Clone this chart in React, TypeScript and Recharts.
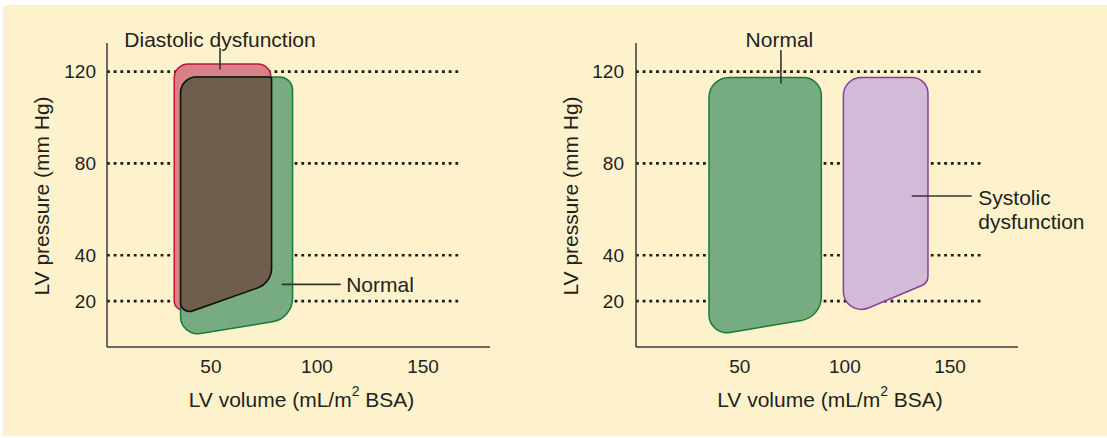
import React from 'react';
import { LineChart, Line, XAxis, YAxis, ReferenceLine } from 'recharts';

// axis ticks
const pressureTicks = [20, 40, 80, 120];
const volumeTicks = [50, 100, 150];
const gridLevels = [20, 40, 80, 120];

// pressure-volume loops (corner vertices)
const diastolicLoop = [
  { volume: 32.7, pressure: 123.4 },
  { volume: 78.3, pressure: 123.4 },
  { volume: 78.3, pressure: 29.4 },
  { volume: 32.7, pressure: 14.5 },
];
const normalLoopLeft = [
  { volume: 35.7, pressure: 117.7 },
  { volume: 88.5, pressure: 117.7 },
  { volume: 88.5, pressure: 12.4 },
  { volume: 35.7, pressure: 4.5 },
];
const overlapLoop = [
  { volume: 35.7, pressure: 117.7 },
  { volume: 78.6, pressure: 117.7 },
  { volume: 78.6, pressure: 27.9 },
  { volume: 35.7, pressure: 13.9 },
];
const normalLoopRight = [
  { volume: 35.4, pressure: 117.5 },
  { volume: 88.8, pressure: 117.5 },
  { volume: 88.8, pressure: 13.0 },
  { volume: 35.4, pressure: 4.8 },
];
const systolicLoop = [
  { volume: 99.3, pressure: 117.5 },
  { volume: 139.5, pressure: 117.5 },
  { volume: 139.5, pressure: 27.9 },
  { volume: 99.3, pressure: 12.4 },
];

// callout leaders
const diastolicLeader = [{ volume: 54.3, pressure: 130.3 }, { volume: 54.3, pressure: 121.0 }];
const normalLeaderLeft = [{ volume: 83.4, pressure: 27.3 }, { volume: 111.2, pressure: 27.3 }];
const normalLeaderRight = [{ volume: 69.6, pressure: 129.4 }, { volume: 69.6, pressure: 114.9 }];
const systolicLeader = [{ volume: 131.8, pressure: 65.8 }, { volume: 160.3, pressure: 65.8 }];

const leftVolumeDomain = [1, 181.6];
const rightVolumeDomain = [0.7, 182.3];
const pressureDomain = [0, 132.5];
const leftGridEnd = 167.5;
const rightGridEnd = 165.5;

const FONT = '"Liberation Sans", Arial, Helvetica, sans-serif';
const INK = '#231f20';
const AXIS = '#3a3a3a';

// closed polygon with rounded corners, drawn in pixel space
type Pt = [number, number];
const roundedLoop = (radii: number[]) => (context: any) => {
  let pts: Pt[] = [];
  return {
    areaStart() {},
    areaEnd() {},
    lineStart() {
      pts = [];
    },
    point(x: number, y: number) {
      pts.push([+x, +y]);
    },
    lineEnd() {
      const n = pts.length;
      if (n < 3) return;
      const a0 = pts[n - 1];
      const b0 = pts[0];
      context.moveTo((a0[0] + b0[0]) / 2, (a0[1] + b0[1]) / 2);
      for (let i = 0; i < n; i++) {
        const p = pts[i];
        const prev = pts[(i - 1 + n) % n];
        const next = pts[(i + 1) % n];
        const ax = prev[0] - p[0];
        const ay = prev[1] - p[1];
        const bx = next[0] - p[0];
        const by = next[1] - p[1];
        const la = Math.hypot(ax, ay);
        const lb = Math.hypot(bx, by);
        const cos = (ax * bx + ay * by) / (la * lb);
        const theta = Math.acos(Math.max(-1, Math.min(1, cos)));
        const maxR = (Math.min(la, lb) / 2) * Math.tan(theta / 2);
        const r = Math.max(0, Math.min(radii[i] ?? 0, maxR));
        context.arcTo(p[0], p[1], next[0], next[1], r);
      }
      context.closePath();
    },
  };
};

const loopCss = `
.loop-diastolic .recharts-line-curve { fill: #d98088; }
.loop-normal .recharts-line-curve { fill: #77ab81; }
.loop-overlap .recharts-line-curve { fill: #6f5e4b; }
.loop-systolic .recharts-line-curve { fill: #d1bbd8; }
`;

const note =
  (lines: string[], side: 'top' | 'right', dx: number, dy: number) =>
  (props: any) => {
    const vb = props.viewBox || {};
    const x = side === 'top' ? vb.x + dx : vb.x + (vb.width || 0) + dx;
    const y = vb.y + dy;
    return (
      <text
        x={x}
        y={y}
        textAnchor={side === 'top' ? 'middle' : 'start'}
        fontSize={21}
        fontFamily={FONT}
        fill={INK}
      >
        {lines.map((t, i) => (
          <tspan key={i} x={x} dy={i === 0 ? 0 : 23.5}>
            {t}
          </tspan>
        ))}
      </text>
    );
  };

const xTitle = (props: any) => {
  const { x, y, width } = props.viewBox;
  return (
    <text x={x + width / 2 + 3} y={y + 60.3} textAnchor="middle" fontSize={21} fontFamily={FONT} fill={INK}>
      LV volume (mL/m
      <tspan fontSize={14} dy={-11}>
        2
      </tspan>
      <tspan dy={11}> BSA)</tspan>
    </text>
  );
};

const yTitle = (shift: number) => (props: any) => {
  const { x, y, width, height } = props.viewBox;
  const cx = x + width / 2 + shift;
  const cy = y + height / 2 + 1;
  return (
    <text
      x={cx}
      y={cy}
      transform={`rotate(-90 ${cx} ${cy})`}
      textAnchor="middle"
      dominantBaseline="central"
      fontSize={21}
      fontFamily={FONT}
      fill={INK}
    >
      LV pressure (mm Hg)
    </text>
  );
};

type LoopSpec = { data: { volume: number; pressure: number }[]; cls: string; stroke: string; width: number; radii: number[] };
type LeaderSpec = { data: { volume: number; pressure: number }[]; label: (p: any) => React.ReactElement };

const Panel = ({
  left,
  width,
  axisWidth,
  right,
  domain,
  gridEnd,
  tickGap,
  titleShift,
  loops,
  leaders,
}: {
  left: number;
  width: number;
  axisWidth: number;
  right: number;
  domain: number[];
  gridEnd: number;
  tickGap: number;
  titleShift: number;
  loops: LoopSpec[];
  leaders: LeaderSpec[];
}) => (
  <div style={{ position: 'absolute', left, top: 0 }}>
    <LineChart width={width} height={438} margin={{ top: 43, right, bottom: 21, left: 0 }}>
      <XAxis
        type="number"
        dataKey="volume"
        domain={domain}
        allowDataOverflow
        ticks={volumeTicks}
        tickLine={false}
        tickSize={0}
        tickMargin={13}
        height={70}
        axisLine={{ stroke: AXIS, strokeWidth: 1.5 }}
        tick={{ fontSize: 19, fill: INK, fontFamily: FONT }}
        label={xTitle}
      />
      <YAxis
        type="number"
        dataKey="pressure"
        domain={pressureDomain}
        allowDataOverflow
        ticks={pressureTicks}
        tickLine={false}
        tickSize={0}
        tickMargin={tickGap}
        width={axisWidth}
        axisLine={{ stroke: AXIS, strokeWidth: 1.5 }}
        tick={{ fontSize: 19, fill: INK, fontFamily: FONT }}
        label={yTitle(titleShift)}
      />
      {gridLevels.map((lvl) => (
        <Line
          key={`grid-${lvl}`}
          data={[
            { volume: domain[0], pressure: lvl },
            { volume: gridEnd, pressure: lvl },
          ]}
          dataKey="pressure"
          type="linear"
          stroke="#1a1a1a"
          strokeWidth={2.7}
          strokeDasharray="2.8 3.9"
          dot={false}
          activeDot={false}
          isAnimationActive={false}
        />
      ))}
      {loops.map((l, i) => (
        <Line
          key={`loop-${i}`}
          className={l.cls}
          data={l.data}
          dataKey="pressure"
          type={roundedLoop(l.radii) as any}
          stroke={l.stroke}
          strokeWidth={l.width}
          dot={false}
          activeDot={false}
          isAnimationActive={false}
        />
      ))}
      {leaders.map((ld, i) => (
        <ReferenceLine
          key={`leader-${i}`}
          segment={ld.data.map((p) => ({ x: p.volume, y: p.pressure }))}
          stroke="#333"
          strokeWidth={1.6}
          label={ld.label}
        />
      ))}
    </LineChart>
  </div>
);

export default function App() {
  return (
    <div style={{ position: 'absolute', left: 0, top: 0, width: 1107, height: 438, background: '#ffffff', overflow: 'hidden' }}>
      <style>{loopCss}</style>
      <div style={{ position: 'absolute', left: 3, top: 5, right: 0, bottom: 2, background: '#fef2cd' }} />
      <Panel
        left={0}
        width={555}
        axisWidth={107}
        right={65}
        domain={leftVolumeDomain}
        gridEnd={leftGridEnd}
        tickGap={11}
        titleShift={-12}
        loops={[
          { data: diastolicLoop, cls: 'loop-diastolic', stroke: '#c1143c', width: 1.5, radii: [14, 13, 8, 9] },
          { data: normalLoopLeft, cls: 'loop-normal', stroke: '#167a38', width: 1.5, radii: [16, 13, 24, 17] },
          { data: overlapLoop, cls: 'loop-overlap', stroke: '#111111', width: 1.6, radii: [16, 2, 21, 9] },
        ]}
        leaders={[
          { data: diastolicLeader, label: note(['Diastolic dysfunction'], 'top', 0, -1.3) },
          { data: normalLeaderLeft, label: note(['Normal'], 'right', 5.5, 8) },
        ]}
      />
      <Panel
        left={540}
        width={567}
        axisWidth={96}
        right={89}
        domain={rightVolumeDomain}
        gridEnd={rightGridEnd}
        tickGap={12}
        titleShift={-18}
        loops={[
          { data: normalLoopRight, cls: 'loop-normal', stroke: '#167a38', width: 1.5, radii: [20, 18, 24, 18] },
          { data: systolicLoop, cls: 'loop-systolic', stroke: '#8d3c98', width: 1.5, radii: [18, 16, 10, 18] },
        ]}
        leaders={[
          { data: normalLeaderRight, label: note(['Normal'], 'top', -1.5, -3.3) },
          { data: systolicLeader, label: note(['Systolic', 'dysfunction'], 'right', 6.6, 9) },
        ]}
      />
    </div>
  );
}
